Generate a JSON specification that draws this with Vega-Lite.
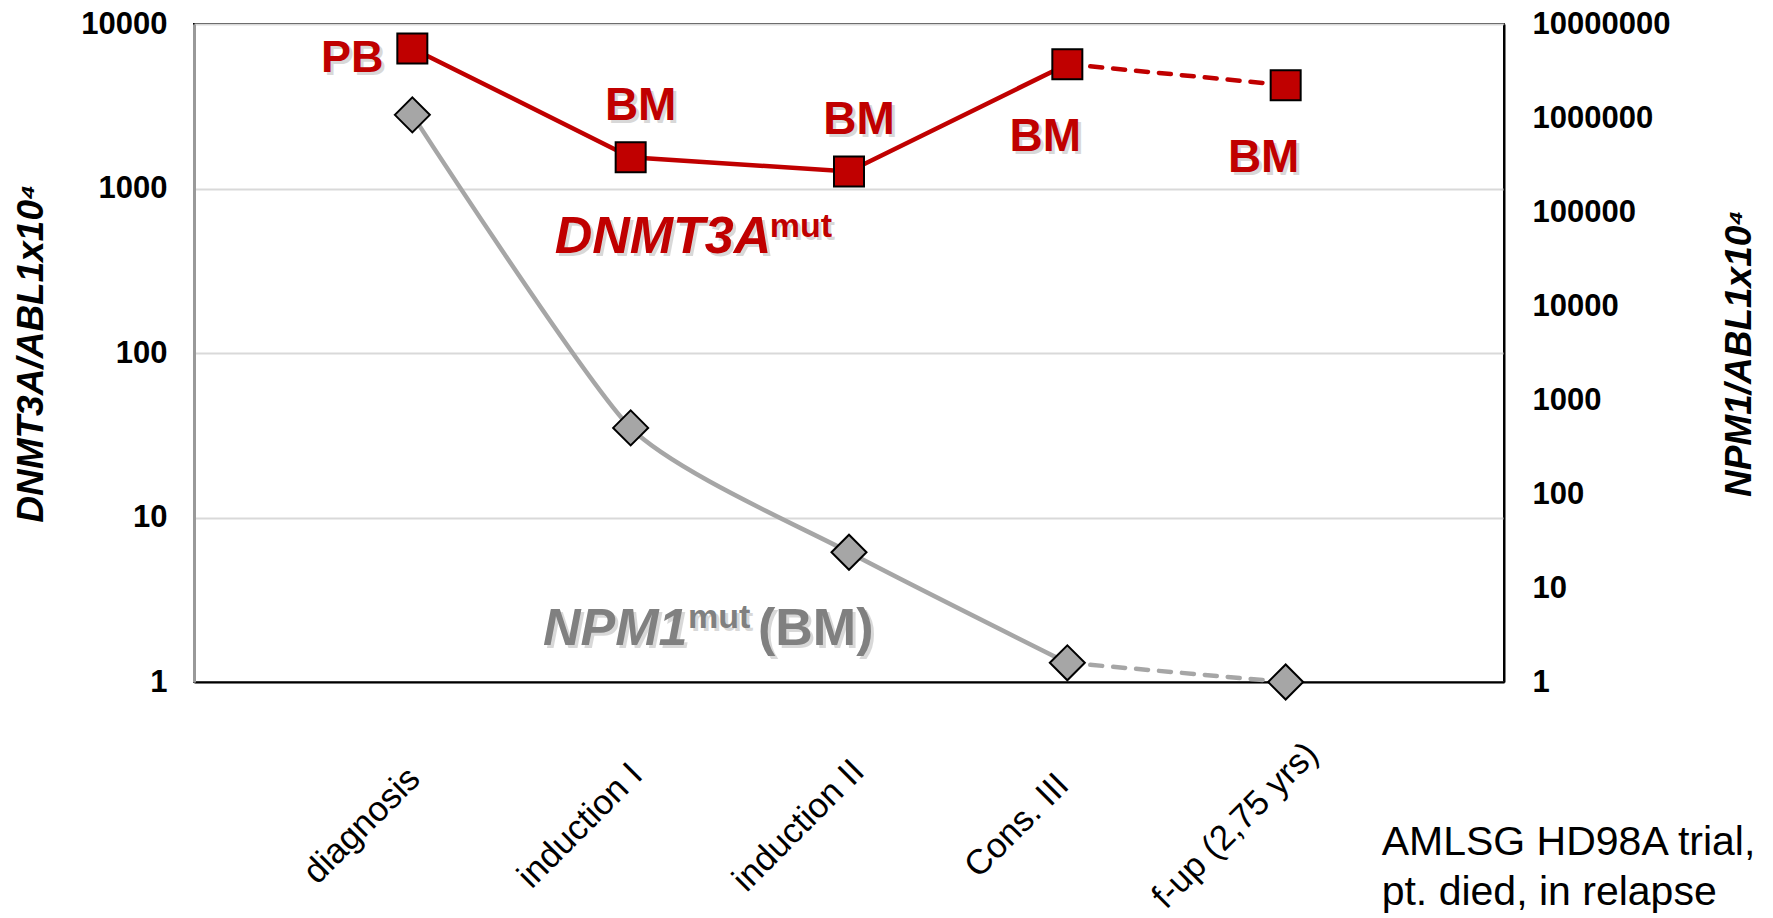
{
  "$schema": "https://vega.github.io/schema/vega-lite/v6.json",
  "width": 1310,
  "height": 658,
  "autosize": {"type": "none"},
  "padding": {"left": 194, "top": 24, "right": 269, "bottom": 236},
  "background": "#ffffff",
  "config": {
    "view": {"stroke": "#000000", "strokeWidth": 2},
    "font": "Liberation Sans",
    "axis": {"labelFont": "Liberation Sans", "titleFont": "Liberation Sans"},
    "text": {"font": "Liberation Sans"}
  },
  "data": {
    "values": [
      {"stage": "diagnosis", "dnmt3a": 7100, "npm1": 1080000, "sample": "PB"},
      {"stage": "induction I", "dnmt3a": 1550, "npm1": 505, "sample": "BM"},
      {"stage": "induction II", "dnmt3a": 1270, "npm1": 24, "sample": "BM"},
      {"stage": "Cons. III", "dnmt3a": 5700, "npm1": 1.6, "sample": "BM"},
      {"stage": "f-up (2,75 yrs)", "dnmt3a": 4250, "npm1": 1, "sample": "BM"}
    ]
  },
  "encoding": {
    "x": {
      "field": "stage",
      "type": "ordinal",
      "sort": null,
      "scale": {"type": "point", "padding": 1},
      "axis": {
        "title": null,
        "labelAngle": -45,
        "labelAlign": "center",
        "labelBaseline": "middle",
        "labelFontSize": 35,
        "labelColor": "#000000",
        "labelPadding": 143,
        "labelOffset": -51,
        "labelLimit": 500,
        "labelOverlap": false,
        "labelBound": false,
        "labelFlush": false,
        "ticks": false,
        "tickSize": 0,
        "domainColor": "#000000",
        "domainWidth": 2,
        "grid": false
      }
    }
  },
  "layer": [
    {
      "encoding": {
        "y": {
          "field": "npm1",
          "type": "quantitative",
          "scale": {"type": "log", "domain": [1, 10000000], "nice": false},
          "axis": {
            "orient": "right",
            "values": [1, 10, 100, 1000, 10000, 100000, 1000000, 10000000],
            "format": "d",
            "title": "NPM1/ABL1x10⁴",
            "titleAngle": -90,
            "titleBaseline": "top",
            "titleFontSize": 37,
            "titleFontWeight": "bold",
            "titleFontStyle": "italic",
            "titleColor": "#000000",
            "titlePadding": 52,
            "labelFontSize": 31,
            "labelFontWeight": "bold",
            "labelColor": "#000000",
            "labelPadding": 28,
            "ticks": false,
            "tickSize": 0,
            "domainColor": "#000000",
            "domainWidth": 2,
            "grid": false
          }
        }
      },
      "layer": [
        {
          "transform": [{"filter": {"not": {"field": "stage", "equal": "f-up (2,75 yrs)"}}}],
          "mark": {"type": "line", "color": "#a6a6a6", "strokeWidth": 4.5, "interpolate": "cardinal", "tension": 0.4}
        },
        {
          "transform": [{"filter": {"field": "stage", "oneOf": ["Cons. III", "f-up (2,75 yrs)"]}}],
          "mark": {"type": "line", "color": "#a6a6a6", "strokeWidth": 4.5, "strokeDash": [12, 11], "strokeCap": "round"}
        },
        {
          "mark": {"type": "point", "shape": "diamond", "size": 1225, "filled": true, "fill": "#a6a6a6", "stroke": "#000000", "strokeWidth": 2, "opacity": 1}
        },
        {
          "transform": [{"filter": {"field": "stage", "equal": "induction II"}}],
          "mark": {"type": "text", "text": "NPM1", "align": "left", "baseline": "alphabetic", "dx": -303, "dy": 96, "fontSize": 52, "fontWeight": "bold", "fontStyle": "italic", "color": "#000000", "opacity": 0.15}
        },
        {
          "transform": [{"filter": {"field": "stage", "equal": "induction II"}}],
          "mark": {"type": "text", "text": "mut", "align": "left", "baseline": "alphabetic", "dx": -158, "dy": 79, "fontSize": 34, "fontWeight": "bold", "color": "#000000", "opacity": 0.15}
        },
        {
          "transform": [{"filter": {"field": "stage", "equal": "induction II"}}],
          "mark": {"type": "text", "text": "(BM)", "align": "left", "baseline": "alphabetic", "dx": -88, "dy": 96, "fontSize": 52, "fontWeight": "bold", "color": "#000000", "opacity": 0.15}
        },
        {
          "transform": [{"filter": {"field": "stage", "equal": "induction II"}}],
          "mark": {"type": "text", "text": "NPM1", "align": "left", "baseline": "alphabetic", "dx": -306, "dy": 93, "fontSize": 52, "fontWeight": "bold", "fontStyle": "italic", "color": "#808080"}
        },
        {
          "transform": [{"filter": {"field": "stage", "equal": "induction II"}}],
          "mark": {"type": "text", "text": "mut", "align": "left", "baseline": "alphabetic", "dx": -161, "dy": 76, "fontSize": 34, "fontWeight": "bold", "color": "#808080"}
        },
        {
          "transform": [{"filter": {"field": "stage", "equal": "induction II"}}],
          "mark": {"type": "text", "text": "(BM)", "align": "left", "baseline": "alphabetic", "dx": -91, "dy": 93, "fontSize": 52, "fontWeight": "bold", "color": "#808080"}
        },
        {
          "transform": [{"filter": {"field": "stage", "equal": "f-up (2,75 yrs)"}}],
          "mark": {"type": "text", "text": ["AMLSG HD98A trial,", "pt. died, in relapse"], "align": "left", "baseline": "alphabetic", "dx": 96, "dy": 173, "lineHeight": 50, "fontSize": 41, "color": "#000000"}
        }
      ]
    },
    {
      "encoding": {
        "y": {
          "field": "dnmt3a",
          "type": "quantitative",
          "scale": {"type": "log", "domain": [1, 10000], "nice": false},
          "axis": {
            "orient": "left",
            "values": [1, 10, 100, 1000, 10000],
            "format": "d",
            "title": "DNMT3A/ABL1x10⁴",
            "titleFontSize": 37,
            "titleFontWeight": "bold",
            "titleFontStyle": "italic",
            "titleColor": "#000000",
            "titlePadding": 30,
            "labelFontSize": 31,
            "labelFontWeight": "bold",
            "labelColor": "#000000",
            "labelPadding": 27,
            "ticks": false,
            "tickSize": 0,
            "domainColor": "#999999",
            "domainWidth": 3,
            "grid": true,
            "gridColor": "#d9d9d9",
            "gridWidth": 2
          }
        }
      },
      "layer": [
        {
          "transform": [{"filter": {"not": {"field": "stage", "equal": "f-up (2,75 yrs)"}}}],
          "mark": {"type": "line", "color": "#c00000", "strokeWidth": 4.5}
        },
        {
          "transform": [{"filter": {"field": "stage", "oneOf": ["Cons. III", "f-up (2,75 yrs)"]}}],
          "mark": {"type": "line", "color": "#c00000", "strokeWidth": 4.5, "strokeDash": [12, 11], "strokeCap": "round"}
        },
        {
          "mark": {"type": "point", "shape": "square", "size": 900, "filled": true, "fill": "#c00000", "stroke": "#000000", "strokeWidth": 2, "opacity": 1}
        },
        {
          "transform": [{"filter": {"field": "stage", "equal": "diagnosis"}}],
          "mark": {"type": "text", "align": "center", "baseline": "alphabetic", "dx": -57, "dy": 27, "fontSize": 45, "fontWeight": "bold", "color": "#000000", "opacity": 0.15},
          "encoding": {"text": {"field": "sample"}}
        },
        {
          "transform": [{"filter": {"field": "stage", "oneOf": ["induction I", "induction II"]}}],
          "mark": {"type": "text", "align": "center", "baseline": "alphabetic", "dx": 13, "dy": -34, "fontSize": 46, "fontWeight": "bold", "color": "#000000", "opacity": 0.15},
          "encoding": {"text": {"field": "sample"}}
        },
        {
          "transform": [{"filter": {"field": "stage", "oneOf": ["Cons. III", "f-up (2,75 yrs)"]}}],
          "mark": {"type": "text", "align": "center", "baseline": "alphabetic", "dx": -19, "dy": 90, "fontSize": 46, "fontWeight": "bold", "color": "#000000", "opacity": 0.15},
          "encoding": {"text": {"field": "sample"}}
        },
        {
          "transform": [{"filter": {"field": "stage", "equal": "induction I"}}],
          "mark": {"type": "text", "text": "DNMT3A", "align": "left", "baseline": "alphabetic", "dx": -73, "dy": 99, "fontSize": 52, "fontWeight": "bold", "fontStyle": "italic", "color": "#000000", "opacity": 0.15}
        },
        {
          "transform": [{"filter": {"field": "stage", "equal": "induction I"}}],
          "mark": {"type": "text", "text": "mut", "align": "left", "baseline": "alphabetic", "dx": 142, "dy": 83, "fontSize": 34, "fontWeight": "bold", "color": "#000000", "opacity": 0.15}
        },
        {
          "transform": [{"filter": {"field": "stage", "equal": "diagnosis"}}],
          "mark": {"type": "text", "align": "center", "baseline": "alphabetic", "dx": -60, "dy": 24, "fontSize": 45, "fontWeight": "bold", "color": "#c00000"},
          "encoding": {"text": {"field": "sample"}}
        },
        {
          "transform": [{"filter": {"field": "stage", "oneOf": ["induction I", "induction II"]}}],
          "mark": {"type": "text", "align": "center", "baseline": "alphabetic", "dx": 10, "dy": -37, "fontSize": 46, "fontWeight": "bold", "color": "#c00000"},
          "encoding": {"text": {"field": "sample"}}
        },
        {
          "transform": [{"filter": {"field": "stage", "oneOf": ["Cons. III", "f-up (2,75 yrs)"]}}],
          "mark": {"type": "text", "align": "center", "baseline": "alphabetic", "dx": -22, "dy": 87, "fontSize": 46, "fontWeight": "bold", "color": "#c00000"},
          "encoding": {"text": {"field": "sample"}}
        },
        {
          "transform": [{"filter": {"field": "stage", "equal": "induction I"}}],
          "mark": {"type": "text", "text": "DNMT3A", "align": "left", "baseline": "alphabetic", "dx": -76, "dy": 96, "fontSize": 52, "fontWeight": "bold", "fontStyle": "italic", "color": "#c00000"}
        },
        {
          "transform": [{"filter": {"field": "stage", "equal": "induction I"}}],
          "mark": {"type": "text", "text": "mut", "align": "left", "baseline": "alphabetic", "dx": 139, "dy": 80, "fontSize": 34, "fontWeight": "bold", "color": "#c00000"}
        }
      ]
    }
  ],
  "resolve": {"scale": {"y": "independent"}, "axis": {"y": "independent"}}
}
